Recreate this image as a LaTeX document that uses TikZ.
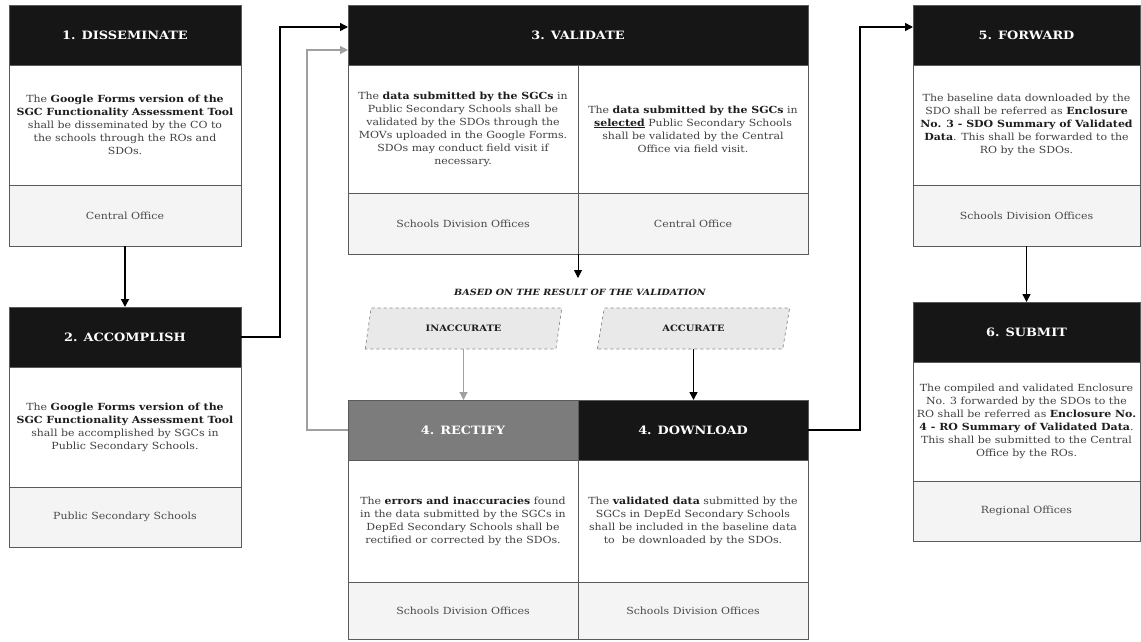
\documentclass[tikz,border=0pt]{standalone}
\usepackage{fontspec}
\setmainfont{DejaVu Serif}[FakeStretch=1.12]
\usetikzlibrary{arrows.meta,shapes.geometric}
\definecolor{hdrblack}{HTML}{161616}
\definecolor{hdrgray}{HTML}{7C7C7C}
\definecolor{boxline}{HTML}{5A5A5A}
\definecolor{footgray}{HTML}{F4F4F4}
\definecolor{bodytext}{HTML}{404040}
\definecolor{foottext}{HTML}{4A4A4A}
\definecolor{boldtext}{HTML}{1E1E1E}
\definecolor{arrgray}{HTML}{A0A0A0}
\definecolor{parfill}{HTML}{E9E9E9}
\definecolor{pardash}{HTML}{8A8A8A}
\newcommand\bodyfnt{\fontsize{9.8}{13}\selectfont}
\newcommand\hdrfnt{\fontsize{11.5}{13}\selectfont\bfseries}
\newcommand\bb[1]{{\bfseries\color{boldtext}#1}}
\tikzset{
  sized/.style 2 args={minimum width=#1, minimum height=#2},
  hdr/.style={draw=boxline, fill=hdrblack, text=white, font=\hdrfnt, inner sep=0pt, outer sep=0pt, line width=0.6pt},
  bodybox/.style={draw=boxline, fill=white, text=bodytext, font=\bodyfnt, align=center, inner sep=0pt, outer sep=0pt, line width=0.6pt},
  footbox/.style={draw=boxline, fill=footgray, text=foottext, font=\bodyfnt, inner sep=0pt, outer sep=0pt, line width=0.6pt},
  arr/.style={draw=black, line width=1.5pt, -{Triangle[width=8pt,length=8pt]}},
  thinarr/.style={draw=black, line width=0.8pt, -{Triangle[width=8pt,length=8pt]}},
  garr/.style={draw=arrgray, line width=1.1pt, -{Triangle[width=8pt,length=8pt]}},
  parbox/.style={trapezium, trapezium left angle=70, trapezium right angle=110, trapezium stretches=true,
    draw=pardash, dashed, fill=parfill, line width=0.7pt, inner sep=0pt, outer sep=0pt,
    font=\fontsize{8.8}{10}\selectfont\bfseries, text=boldtext}
}
\begin{document}
\begin{tikzpicture}[x=1pt,y=-1pt]
\useasboundingbox[fill=white] (0,0) rectangle (1141,641);

% Box 1
\node[hdr, sized={232}{60}] (h1) at (125,35) {1. DISSEMINATE};
\node[bodybox, sized={232}{120}] (b1) at (125,125) {The \bb{Google Forms version of the}\\ \bb{SGC Functionality Assessment Tool}\\ shall be disseminated by the CO to\\ the schools through the ROs and\\ SDOs.};
\node[footbox, sized={232}{61}] (f1) at (125,215.5) {Central Office};

% Box 2
\node[hdr, sized={232}{60}] (h2) at (125,337) {2. ACCOMPLISH};
\node[bodybox, sized={232}{120}] (b2) at (125,427) {The \bb{Google Forms version of the}\\ \bb{SGC Functionality Assessment Tool}\\ shall be accomplished by SGCs in\\ Public Secondary Schools.};
\node[footbox, sized={232}{60}] (f2) at (125,517) {Public Secondary Schools};

% Box 3
\node[hdr, sized={460}{60}] (h3) at (578,35) {3. VALIDATE};
\node[bodybox, sized={230}{128}] (b3l) at (463,129) {The \bb{data submitted by the SGCs} in\\ Public Secondary Schools shall be\\ validated by the SDOs through the\\ MOVs uploaded in the Google Forms.\\ SDOs may conduct field visit if\\ necessary.};
\node[bodybox, sized={230}{128}] (b3r) at (693,129) {The \bb{data submitted by the SGCs} in\\ \bb{\underline{selected}} Public Secondary Schools\\ shall be validated by the Central\\ Office via field visit.};
\node[footbox, sized={230}{61}] (f3l) at (463,223.5) {Schools Division Offices};
\node[footbox, sized={230}{61}] (f3r) at (693,223.5) {Central Office};

% Decision
\node[font=\fontsize{8.6}{10}\selectfont\bfseries\itshape, text=boldtext] (lbl) at (580,292) {BASED ON THE RESULT OF THE VALIDATION};
\node[parbox, sized={197}{41}] (pi) at (463.5,328.5) {INACCURATE};
\node[parbox, sized={193}{41}] (pa) at (693.5,328.5) {ACCURATE};

% Box 4
\node[hdr, fill=hdrgray, sized={230}{60}] (h4r) at (463,430) {4. RECTIFY};
\node[hdr, sized={230}{60}] (h4d) at (693,430) {4. DOWNLOAD};
\node[bodybox, sized={230}{122}] (b4r) at (463,521) {The \bb{errors and inaccuracies} found\\ in the data submitted by the SGCs in\\ DepEd Secondary Schools shall be\\ rectified or corrected by the SDOs.};
\node[bodybox, sized={230}{122}] (b4d) at (693,521) {The \bb{validated data} submitted by the\\ SGCs in DepEd Secondary Schools\\ shall be included in the baseline data\\ to\ \ be downloaded by the SDOs.};
\node[footbox, sized={230}{57}] (f4r) at (463,610.5) {Schools Division Offices};
\node[footbox, sized={230}{57}] (f4d) at (693,610.5) {Schools Division Offices};

% Box 5
\node[hdr, sized={227}{60}] (h5) at (1026.5,35) {5. FORWARD};
\node[bodybox, sized={227}{120}] (b5) at (1026.5,125) {The baseline data downloaded by the\\ SDO shall be referred as \bb{Enclosure}\\ \bb{No. 3 - SDO Summary of Validated}\\ \bb{Data}. This shall be forwarded to the\\ RO by the SDOs.};
\node[footbox, sized={227}{61}] (f5) at (1026.5,215.5) {Schools Division Offices};

% Box 6
\node[hdr, sized={227}{60}] (h6) at (1026.5,332) {6. SUBMIT};
\node[bodybox, sized={227}{119}] (b6) at (1026.5,421.5) {The compiled and validated Enclosure\\ No. 3 forwarded by the SDOs to the\\ RO shall be referred as \bb{Enclosure No.}\\ \bb{4 - RO Summary of Validated Data}.\\ This shall be submitted to the Central\\ Office by the ROs.};
\node[footbox, sized={227}{60}] (f6) at (1026.5,511) {Regional Offices};

% Connectors
\coordinate (c23) at (280,27);
\coordinate (c43) at (307,50);
\coordinate (c3) at (578,278);
\coordinate (c45) at (860,27);
\draw[arr] (f1.south) -- (h2.north);
\draw[arr] (h2.east) -| (c23) -- (c23 -| h3.west);
\draw[garr] (h4r.west) -| (c43) -- (c43 -| h3.west);
\draw[thinarr] (f3l.south east) -- (c3);
\draw[garr] (pi.south) -- (pi.south |- h4r.north);
\draw[arr] (pa.south) -- (pa.south |- h4d.north);
\draw[arr] (h4d.east) -| (c45) -- (c45 -| h5.west);
\draw[arr] (f5.south) -- (h6.north);
\end{tikzpicture}
\end{document}
